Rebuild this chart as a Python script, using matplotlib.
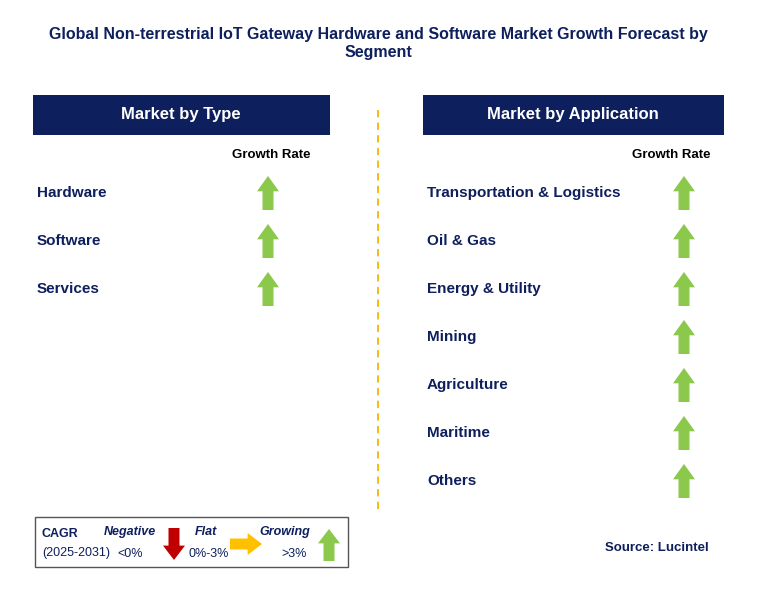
import matplotlib.pyplot as plt
from matplotlib.patches import Rectangle, Polygon

plt.rcParams['font.family'] = 'Liberation Sans'

type_labels = ['Hardware', 'Software', 'Services']
type_trend = ['up', 'up', 'up']
app_labels = ['Transportation & Logistics', 'Oil & Gas', 'Energy & Utility', 'Mining',
              'Agriculture', 'Maritime', 'Others']
app_trend = ['up', 'up', 'up', 'up', 'up', 'up', 'up']

NAVY = '#0d1f5c'
GREEN = '#8cc84b'
RED = '#c00000'
YELLOW = '#ffc000'

fig = plt.figure(figsize=(7.57, 5.92), dpi=100)
ax = fig.add_axes([0, 0, 1, 1])
ax.set_xlim(0, 757)
ax.set_ylim(592, 0)
ax.axis('off')


def arrow(cx, cy, direction, color, size=34, width=22):
    h = size / 2
    sw = width * 0.5 / 2
    hw = width / 2
    hl = size * 0.45
    if direction == 'up':
        pts = [(cx - sw, cy + h), (cx - sw, cy - h + hl), (cx - hw, cy - h + hl), (cx, cy - h),
               (cx + hw, cy - h + hl), (cx + sw, cy - h + hl), (cx + sw, cy + h)]
    elif direction == 'down':
        pts = [(cx - sw, cy - h), (cx - sw, cy + h - hl), (cx - hw, cy + h - hl), (cx, cy + h),
               (cx + hw, cy + h - hl), (cx + sw, cy + h - hl), (cx + sw, cy - h)]
    else:
        pts = [(cx - h, cy - sw), (cx + h - hl, cy - sw), (cx + h - hl, cy - hw), (cx + h, cy),
               (cx + h - hl, cy + hw), (cx + h - hl, cy + sw), (cx - h, cy + sw)]
    ax.add_patch(Polygon(pts, closed=True, facecolor=color, edgecolor='none'))


colors = {'up': GREEN, 'down': RED, 'flat': YELLOW}

ax.text(378, 44, 'Global Non-terrestrial IoT Gateway Hardware and Software Market Growth Forecast by\nSegment',
        ha='center', va='center', fontsize=11.5, fontweight='bold', color=NAVY, linespacing=1.25)

# panel headers
ax.add_patch(Rectangle((33, 95), 297, 40, facecolor=NAVY))
ax.text(181, 115, 'Market by Type', ha='center', va='center', color='white', fontsize=12, fontweight='bold')
ax.add_patch(Rectangle((423, 95), 301, 40, facecolor=NAVY))
ax.text(573, 115, 'Market by Application', ha='center', va='center', color='white', fontsize=12, fontweight='bold')

ax.text(271, 155, 'Growth Rate', ha='center', va='center', fontsize=9.5, fontweight='bold', color='black')
ax.text(671, 155, 'Growth Rate', ha='center', va='center', fontsize=9.5, fontweight='bold', color='black')

ax.plot([378, 378], [110, 510], linestyle=(0, (4, 3)), color='#f5b400', lw=1.3)

for i, (lab, tr) in enumerate(zip(type_labels, type_trend)):
    y = 193 + 48 * i
    ax.text(37, y, lab, ha='left', va='center', fontsize=11, fontweight='bold', color=NAVY)
    arrow(268, y, tr, colors[tr])

for i, (lab, tr) in enumerate(zip(app_labels, app_trend)):
    y = 193 + 48 * i
    ax.text(427, y, lab, ha='left', va='center', fontsize=11, fontweight='bold', color=NAVY)
    arrow(684, y, tr, colors[tr])

# legend box
ax.add_patch(Rectangle((35, 517), 313, 50, facecolor='white', edgecolor='#555555', lw=1))
ax.text(42, 534, 'CAGR', fontsize=9, fontweight='bold', color=NAVY, va='center')
ax.text(42, 553, '(2025-2031)', fontsize=9, color=NAVY, va='center')
ax.text(130, 532, 'Negative', fontsize=9, fontweight='bold', style='italic', color=NAVY, ha='center', va='center')
ax.text(130, 554, '<0%', fontsize=9, color=NAVY, ha='center', va='center')
arrow(174, 544, 'down', RED, size=32, width=22)
ax.text(206, 532, 'Flat', fontsize=9, fontweight='bold', style='italic', color=NAVY, ha='center', va='center')
ax.text(209, 554, '0%-3%', fontsize=9, color=NAVY, ha='center', va='center')
arrow(246, 544, 'flat', YELLOW, size=32, width=22)
ax.text(285, 532, 'Growing', fontsize=9, fontweight='bold', style='italic', color=NAVY, ha='center', va='center')
ax.text(294, 554, '>3%', fontsize=9, color=NAVY, ha='center', va='center')
arrow(329, 545, 'up', GREEN, size=32, width=22)

ax.text(709, 548, 'Source: Lucintel', ha='right', va='center', fontsize=9.5, fontweight='bold', color=NAVY)

fig.savefig('out.png', dpi=100)
